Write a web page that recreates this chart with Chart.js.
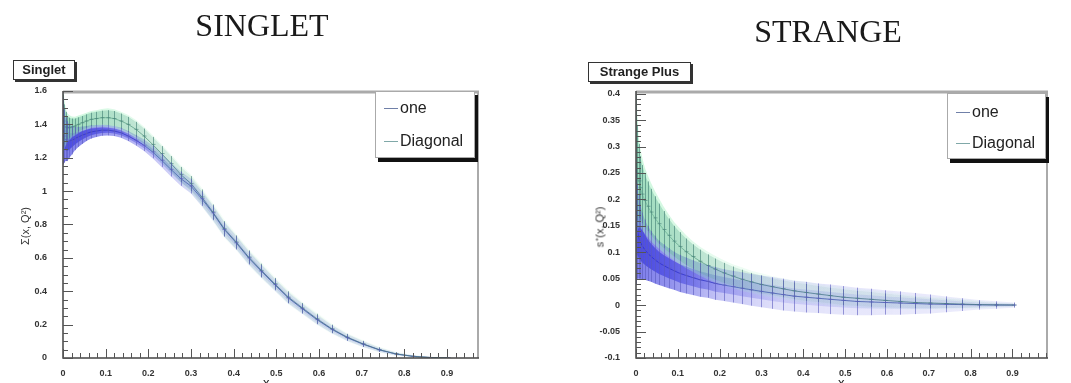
<!DOCTYPE html>
<html>
<head>
<meta charset="utf-8">
<script src="https://cdn.jsdelivr.net/npm/chart.js@4/dist/chart.umd.min.js"></script>
<style>
body{margin:0;background:#fff;width:1071px;height:383px;overflow:hidden;position:relative;font-family:"Liberation Sans",Arial,sans-serif}
canvas{position:absolute;top:0}
.title{position:absolute;font:32px "Liberation Serif","Times New Roman",serif;color:#1a1a1a;transform:translate(-50%,-50%);white-space:nowrap}
.tag{position:absolute;box-sizing:border-box;border:1px solid #333;box-shadow:2px 2px 0 #333;background:#fff;font:bold 13px "Liberation Sans",Arial,sans-serif;color:#222;text-align:center;line-height:18px}
.legend{position:absolute;box-sizing:border-box;background:#fff;border:1px solid #aaa;box-shadow:3px 4px 0 #111}
.entry{position:absolute;left:8px;font:16px "Liberation Sans",Arial,sans-serif;color:#222;white-space:nowrap}
.entry i{display:inline-block;width:14px;height:1px;vertical-align:middle;margin-right:2px}
.ytitle{position:absolute;font:11px "Liberation Sans",Arial,sans-serif;color:#333;transform:translate(-50%,-50%) rotate(-90deg);white-space:nowrap}
.xtitle{position:absolute;font:13px "Liberation Sans",Arial,sans-serif;color:#222}
</style>
</head>
<body>
<canvas id="singlet" width="535" height="383" style="left:0"></canvas>
<canvas id="strange" width="536" height="383" style="left:535px"></canvas>

<div class="title" style="left:262px;top:25px">SINGLET</div>
<div class="title" style="left:828px;top:31px">STRANGE</div>

<div class="tag" style="left:13px;top:60px;width:62px;height:20px">Singlet</div>
<div class="tag" style="left:588px;top:62px;width:103px;height:20px">Strange Plus</div>

<div class="legend" style="left:375px;top:91px;width:100px;height:67px">
  <div class="entry" style="top:7px"><i style="background:#7080a8"></i>one</div>
  <div class="entry" style="top:40px"><i style="background:#80a8a8"></i>Diagonal</div>
</div>
<div class="legend" style="left:947px;top:93px;width:99px;height:66px">
  <div class="entry" style="top:9px"><i style="background:#7080a8"></i>one</div>
  <div class="entry" style="top:40px"><i style="background:#80a8a8"></i>Diagonal</div>
</div>

<div class="ytitle" style="left:25px;top:226px">Σ(x, Q²)</div>
<div class="ytitle" style="left:599px;top:227px">s⁺(x, Q²)</div>
<div class="xtitle" style="left:263px;top:375px">x</div>
<div class="xtitle" style="left:838px;top:375px">x</div>

<script>
// x grid shared by both plots
const xGrid = [0.001,0.003,0.006,0.01,0.015,0.021,0.028,0.036,0.045,0.055,0.066,0.078,0.091,0.105,0.12,0.136,0.153,0.171,0.19,0.21,0.231,0.253,0.276,0.3,0.325,0.351,0.378,0.406,0.435,0.465,0.496,0.528,0.561,0.595,0.63,0.666,0.703,0.741,0.78,0.82,0.861,0.903];

// singlet, "one"
const singletOne = [1.36,1.33,1.31,1.30,1.30,1.305,1.315,1.325,1.335,1.345,1.355,1.36,1.365,1.365,1.36,1.35,1.33,1.305,1.275,1.235,1.185,1.13,1.075,1.03,0.955,0.87,0.77,0.69,0.60,0.52,0.44,0.36,0.295,0.23,0.172,0.122,0.083,0.049,0.024,0.01,0.003,0.001];
const singletOneErr = [0.2,0.16,0.13,0.12,0.1,0.085,0.07,0.06,0.052,0.045,0.04,0.036,0.033,0.031,0.03,0.03,0.03,0.032,0.035,0.038,0.04,0.042,0.043,0.044,0.044,0.044,0.043,0.04,0.04,0.038,0.035,0.033,0.03,0.028,0.024,0.02,0.017,0.013,0.009,0.006,0.003,0.002];
// singlet, "Diagonal"
const singletDiag = [1.42,1.40,1.385,1.38,1.38,1.385,1.39,1.40,1.41,1.42,1.43,1.435,1.44,1.44,1.435,1.42,1.40,1.37,1.33,1.28,1.225,1.165,1.10,1.045,0.965,0.875,0.775,0.695,0.605,0.525,0.445,0.365,0.30,0.235,0.175,0.125,0.085,0.05,0.025,0.01,0.003,0.001];
const singletDiagErr = [0.16,0.12,0.09,0.07,0.06,0.05,0.045,0.042,0.04,0.04,0.04,0.04,0.042,0.045,0.045,0.045,0.045,0.045,0.045,0.045,0.045,0.045,0.045,0.045,0.045,0.045,0.045,0.04,0.04,0.04,0.035,0.035,0.03,0.03,0.025,0.02,0.018,0.014,0.01,0.006,0.003,0.002];

// strange plus, "one"
const strangeOne = [0.15,0.14,0.13,0.12,0.112,0.105,0.098,0.092,0.086,0.08,0.075,0.07,0.065,0.06,0.056,0.052,0.048,0.045,0.041,0.038,0.035,0.032,0.029,0.026,0.023,0.02,0.017,0.015,0.013,0.011,0.009,0.007,0.006,0.005,0.004,0.003,0.002,0.0015,0.001,0.0005,0.0002,0.0001];
const strangeOneErr = [0.11,0.09,0.08,0.07,0.063,0.057,0.052,0.048,0.045,0.042,0.04,0.038,0.036,0.035,0.034,0.033,0.032,0.031,0.031,0.03,0.03,0.03,0.03,0.03,0.03,0.03,0.029,0.029,0.028,0.028,0.027,0.026,0.025,0.023,0.022,0.02,0.018,0.015,0.012,0.009,0.007,0.005];
// strange plus, "Diagonal"
const strangeDiag = [0.27,0.25,0.235,0.222,0.21,0.198,0.187,0.176,0.165,0.154,0.143,0.132,0.121,0.111,0.101,0.092,0.083,0.075,0.068,0.061,0.055,0.049,0.044,0.039,0.035,0.031,0.027,0.024,0.021,0.018,0.015,0.013,0.011,0.009,0.007,0.005,0.004,0.003,0.002,0.001,0.0005,0.0002];
const strangeDiagErr = [0.13,0.09,0.07,0.06,0.055,0.05,0.047,0.044,0.041,0.038,0.035,0.032,0.029,0.027,0.025,0.023,0.022,0.021,0.02,0.019,0.018,0.018,0.017,0.017,0.016,0.016,0.016,0.016,0.015,0.015,0.015,0.014,0.014,0.013,0.012,0.011,0.01,0.009,0.008,0.006,0.004,0.003];

const xTicks = [0,0.1,0.2,0.3,0.4,0.5,0.6,0.7,0.8,0.9];
const singletYTicks = [0,0.2,0.4,0.6,0.8,1,1.2,1.4,1.6];
const strangeYTicks = [-0.1,-0.05,0,0.05,0.1,0.15,0.2,0.25,0.3,0.35,0.4];

const ONE = '40,40,220', DIAG = '70,150,130', FRINGE = '160,240,190';

function pts(vals, errs, k) {
  return xGrid.map((x, i) => ({x: x, y: vals[i] + errs[i] * k}));
}

// band colour is dense near x=0 where the bars pile up, thin further out
function fade(rgb, a) {
  return c => {
    const chart = c.chart;
    if (!chart.chartArea) return 'rgba(' + rgb + ',' + a + ')';
    const x = chart.scales.x;
    const g = chart.ctx.createLinearGradient(x.getPixelForValue(0), 0, x.getPixelForValue(1), 0);
    g.addColorStop(0, 'rgba(' + rgb + ',' + a + ')');
    g.addColorStop(0.08, 'rgba(' + rgb + ',' + (a * 0.85) + ')');
    g.addColorStop(0.2, 'rgba(' + rgb + ',' + (a * 0.45) + ')');
    g.addColorStop(0.35, 'rgba(' + rgb + ',' + (a * 0.22) + ')');
    g.addColorStop(1, 'rgba(' + rgb + ',' + (a * 0.12) + ')');
    return g;
  };
}

function band(vals, errs, k, rgb, a) {
  return [
    {data: pts(vals, errs, k), borderWidth: 0, pointRadius: 0, fill: '+1', backgroundColor: fade(rgb, a)},
    {data: pts(vals, errs, -k), borderWidth: 0, pointRadius: 0, fill: false}
  ];
}

function centre(vals, col) {
  return {data: pts(vals, vals.map(() => 0), 0), borderColor: col, borderWidth: 1, pointRadius: 0, fill: false};
}

// vertical error bars at each grid point
const errBars = {
  id: 'errBars',
  afterDatasetsDraw(chart, args, opts) {
    const {ctx, chartArea: a, scales: {x, y}} = chart;
    ctx.save();
    ctx.beginPath();
    ctx.rect(a.left, a.top, a.right - a.left, a.bottom - a.top);
    ctx.clip();
    opts.sets.forEach(s => {
      ctx.strokeStyle = s.color;
      ctx.lineWidth = 1;
      xGrid.forEach((xv, i) => {
        const px = Math.round(x.getPixelForValue(xv)) + 0.5;
        ctx.beginPath();
        ctx.moveTo(px, y.getPixelForValue(s.vals[i] - s.errs[i]));
        ctx.lineTo(px, y.getPixelForValue(s.vals[i] + s.errs[i]));
        ctx.moveTo(px - 2, y.getPixelForValue(s.vals[i]));
        ctx.lineTo(px + 2, y.getPixelForValue(s.vals[i]));
        ctx.stroke();
      });
    });
    ctx.restore();
  }
};

// ROOT style frame with inward ticks
const frame = {
  id: 'frame',
  afterDraw(chart, args, opts) {
    const {ctx, chartArea: a, scales: {x, y}} = chart;
    ctx.save();
    ctx.strokeStyle = '#aaa';
    ctx.lineWidth = 3;
    ctx.beginPath();
    ctx.moveTo(a.left, a.top + 1);
    ctx.lineTo(a.right, a.top + 1);
    ctx.stroke();
    ctx.lineWidth = 2;
    ctx.beginPath();
    ctx.moveTo(a.right - 1, a.top);
    ctx.lineTo(a.right - 1, a.bottom);
    ctx.stroke();
    ctx.strokeStyle = '#444';
    ctx.lineWidth = 1.5;
    ctx.beginPath();
    ctx.moveTo(a.left, a.top);
    ctx.lineTo(a.left, a.bottom);
    ctx.lineTo(a.right, a.bottom);
    ctx.stroke();
    ctx.lineWidth = 1;
    ctx.strokeStyle = '#555';
    for (let v = x.min; v <= x.max + 1e-9; v += opts.xMinor) {
      const px = Math.round(x.getPixelForValue(v)) + 0.5;
      const major = Math.abs(v / 0.1 - Math.round(v / 0.1)) < 1e-6;
      ctx.beginPath();
      ctx.moveTo(px, a.bottom);
      ctx.lineTo(px, a.bottom - (major ? 9 : 5));
      ctx.stroke();
    }
    for (let v = y.min; v <= y.max + 1e-9; v += opts.yMinor) {
      const py = Math.round(y.getPixelForValue(v)) + 0.5;
      const major = Math.abs(v / opts.yMajor - Math.round(v / opts.yMajor)) < 1e-6;
      ctx.beginPath();
      ctx.moveTo(a.left, py);
      ctx.lineTo(a.left + (major ? 10 : 5), py);
      ctx.stroke();
    }
    ctx.restore();
  }
};

function makeChart(id, one, oneErr, diag, diagErr, yTicks, yMin, yMax, xMax, pad, yWidth, yMajor, yMinor) {
  const datasets = [].concat(
    band(diag, diagErr, 1.25, FRINGE, 0.5),
    band(diag, diagErr, 1, DIAG, 0.5),
    band(one, oneErr, 1, ONE, 0.6),
    band(one, oneErr, 0.5, ONE, 0.6),
    [centre(diag, 'rgba(70,120,110,0.8)'), centre(one, 'rgba(70,80,170,0.85)')]
  );
  return new Chart(document.getElementById(id), {
    type: 'line',
    data: {datasets: datasets},
    options: {
      responsive: false,
      animation: false,
      devicePixelRatio: 1,
      layout: {padding: pad},
      plugins: {
        legend: {display: false},
        tooltip: {enabled: false},
        errBars: {sets: [
          {vals: diag, errs: diagErr, color: 'rgba(70,130,120,0.65)'},
          {vals: one, errs: oneErr, color: 'rgba(90,90,190,0.6)'}
        ]},
        frame: {xMinor: 0.02, yMajor: yMajor, yMinor: yMinor}
      },
      scales: {
        x: {
          type: 'linear', min: 0, max: xMax,
          afterBuildTicks: s => { s.ticks = xTicks.map(v => ({value: v})); },
          afterFit: s => { s.height = 18; },
          grid: {display: false}, border: {display: false},
          ticks: {padding: 2, maxRotation: 0, autoSkip: false, color: '#333',
            font: {family: 'Liberation Sans', size: 9, weight: 'bold'},
            callback: v => String(+v.toFixed(2))}
        },
        y: {
          type: 'linear', min: yMin, max: yMax,
          afterBuildTicks: s => { s.ticks = yTicks.map(v => ({value: v})); },
          afterFit: s => { s.width = yWidth; },
          grid: {display: false}, border: {display: false},
          ticks: {padding: 8, autoSkip: false, color: '#333',
            font: {family: 'Liberation Sans', size: 9, weight: 'bold'},
            callback: v => String(+v.toFixed(2))}
        }
      }
    },
    plugins: [errBars, frame]
  });
}

makeChart('singlet', singletOne, singletOneErr, singletDiag, singletDiagErr,
  singletYTicks, 0, 1.6, 0.975, {left: 20, top: 91, right: 56, bottom: 7}, 43, 0.2, 0.05);
makeChart('strange', strangeOne, strangeOneErr, strangeDiag, strangeDiagErr,
  strangeYTicks, -0.1, 0.405, 0.985, {left: 51, top: 91, right: 23, bottom: 7}, 50, 0.05, 0.01);
</script>
</body>
</html>
